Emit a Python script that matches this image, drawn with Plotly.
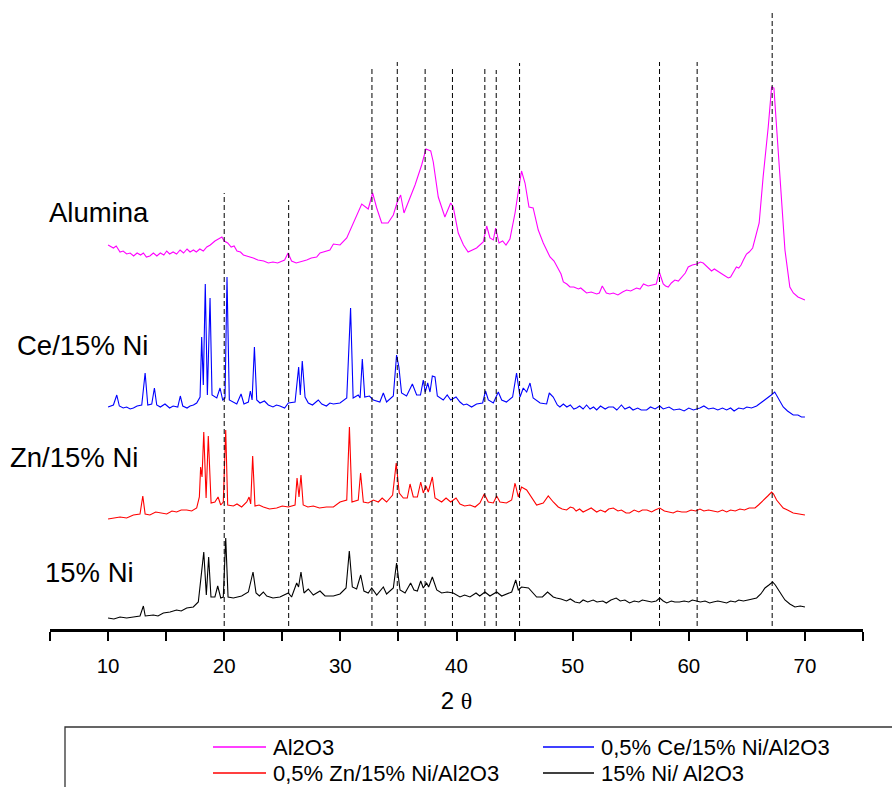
import plotly.graph_objects as go

# ---- XRD patterns (2θ in degrees, stacked intensity in a.u.) ----
tt_al2o3 = [10.0, 10.25, 10.46, 10.7, 11.03, 11.3, 11.6, 11.9, 12.2, 12.5, 12.8, 13.04, 13.3, 13.6,
            13.9, 14.2, 14.5, 14.8, 15.05, 15.3, 15.6, 15.9, 16.2, 16.5, 16.8, 17.06, 17.35, 17.6,
            17.9, 18.2, 18.5, 18.8, 19.2, 19.5, 19.8, 20.0, 20.3, 20.6, 20.85, 21.1, 21.4, 21.65,
            22.0, 22.5, 22.9, 23.4, 23.8, 24.2, 24.6, 25.2, 25.5, 25.8, 26.2, 26.6, 27.1, 27.5,
            27.96, 28.25, 28.6, 29.1, 29.4, 29.97, 30.55, 31.1, 31.84, 32.4, 32.78, 33.13, 33.56,
            34.1, 34.56, 34.9, 35.19, 35.48, 35.85, 36.43, 37.0, 37.37, 37.78, 38.0, 38.43, 39.0,
            39.5, 39.72, 40.15, 40.6, 41.0, 41.73, 42.3, 42.6, 42.88, 43.17, 43.37, 43.66, 43.97,
            44.26, 44.6, 45.04, 45.38, 45.6, 45.9, 46.24, 46.6, 47.04, 47.47, 48.05, 48.4, 48.76,
            49.0, 49.2, 49.5, 49.77, 50.1, 50.5, 50.7, 50.9, 51.2, 51.6, 52.07, 52.3, 52.55, 52.9,
            53.2, 53.5, 53.9, 54.3, 54.65, 55.0, 55.5, 55.8, 56.1, 56.5, 56.95, 57.2, 57.46, 57.8,
            58.0, 58.23, 58.5, 58.8, 59.1, 59.4, 59.7, 59.95, 60.3, 60.68, 61.0, 61.24, 61.6, 61.96,
            62.2, 62.68, 63.0, 63.4, 63.6, 63.8, 64.1, 64.3, 64.5, 64.7, 64.97, 65.2, 65.5, 66.06,
            66.4, 66.84, 67.13, 67.33, 67.56, 67.85, 68.28, 68.7, 69.0, 69.4, 70.0]
int_al2o3 = [384, 382, 381, 383, 377, 378, 375, 376, 373, 376, 374, 376, 372, 373,
             376, 373, 376, 374, 378, 375, 377, 375, 379, 376, 380, 377, 379, 377,
             380, 378, 382, 384, 388, 390, 392, 388, 386, 382, 383, 378, 377, 374,
             373, 371, 369, 368, 366, 367, 366, 369, 376, 368, 366, 367, 369, 371,
             372, 376, 377, 379, 385, 384, 391, 406, 425, 420, 436, 421, 406,
             406, 414, 427, 434, 416, 427, 444, 464, 480, 478, 467, 432, 412,
             426, 422, 396, 384, 377, 381, 387, 403, 391, 389, 401, 386, 388,
             384, 390, 416, 442, 458, 446, 422, 421, 399, 386, 372, 368, 361,
             355, 347, 345, 342, 342, 340, 341, 339, 336, 337, 335, 336, 343, 336,
             335, 336, 334, 337, 339, 338, 341, 340, 345, 343, 344, 345, 357, 345,
             343, 342, 346, 349, 348, 352, 356, 362, 364, 365, 367, 366, 362, 358,
             360, 356, 354, 351, 352, 356, 362, 361, 364, 369, 375, 377, 381, 406,
             452, 502, 542, 541, 502, 446, 379, 342, 336, 332, 329]

tt_ce = [10.0, 10.46, 10.75, 10.97, 11.3, 11.6, 11.9, 12.18, 12.5, 12.9, 13.19, 13.42, 13.76,
         13.99, 14.19, 14.5, 14.9, 15.3, 15.6, 16.0, 16.22, 16.43, 16.8, 17.06, 17.35, 17.63,
         17.92, 18.06, 18.2, 18.37, 18.55, 18.78, 18.95, 19.36, 19.64, 19.87, 20.07, 20.24,
         20.44, 20.75, 21.08, 21.45, 21.7, 22.08, 22.25, 22.4, 22.6, 22.8, 23.08, 23.46, 23.8,
         24.2, 24.5, 24.8, 25.2, 25.52, 26.1, 26.41, 26.55, 26.72, 26.96, 27.24, 27.6, 28.1,
         28.4, 28.8, 29.1, 29.4, 29.97, 30.55, 30.88, 31.1, 31.54, 31.7, 31.89, 32.1, 32.5,
         32.84, 33.4, 33.7, 33.98, 34.56, 34.84, 35.04, 35.27, 35.7, 36.2, 36.57, 36.9, 37.14,
         37.31, 37.52, 37.72, 37.92, 38.15, 38.35, 38.86, 39.2, 39.5, 39.96, 40.3, 40.6, 40.88,
         41.3, 41.73, 42.25, 42.5, 42.74, 43.17, 43.6, 43.89, 44.3, 44.83, 45.17, 45.47, 45.75,
         46.04, 46.33, 46.6, 47.2, 47.76, 47.99, 48.33, 48.68, 48.9, 49.2, 49.5, 49.8, 50.1,
         50.34, 50.6, 50.9, 51.2, 51.5, 51.8, 52.07, 52.4, 52.8, 53.1, 53.5, 53.8, 54.2, 54.5,
         54.9, 55.2, 55.6, 55.9, 56.37, 56.7, 57.1, 57.5, 57.8, 58.3, 58.7, 59.2, 59.6, 60.0,
         60.4, 60.96, 61.3, 61.7, 62.1, 62.5, 62.9, 63.26, 63.6, 63.9, 64.3, 64.7, 65.0, 65.4,
         65.84, 66.2, 66.7, 67.1, 67.4, 67.7, 68.13, 68.5, 68.99, 69.4, 69.7, 70.0]
int_ce = [222, 224, 234, 223, 221, 222, 220, 221, 223, 224, 256, 224, 225,
          241, 224, 222, 225, 221, 223, 222, 233, 223, 221, 223, 224, 226,
          232, 292, 244, 345, 234, 331, 234, 231, 241, 229, 231, 352,
          229, 227, 225, 235, 225, 227, 238, 229, 282, 229, 226, 228, 224,
          222, 224, 223, 221, 226, 227, 262, 234, 268, 232, 226, 224, 229,
          225, 223, 226, 225, 226, 231, 321, 231, 234, 231, 270, 232, 233,
          229, 227, 236, 227, 233, 274, 262, 236, 233, 245, 234, 234, 249,
          237, 246, 237, 253, 252, 233, 229, 234, 229, 232, 227, 224, 225,
          222, 225, 226, 238, 229, 226, 237, 229, 227, 232, 256, 232, 241,
          237, 246, 231, 226, 225, 236, 232, 224, 222, 225, 222, 224, 220,
          221, 223, 220, 224, 220, 222, 219, 223, 220, 222, 222, 219, 224, 220,
          222, 219, 221, 219, 219, 222, 220, 223, 220, 222, 219, 220, 218, 221,
          219, 221, 223, 220, 221, 219, 221, 219, 221, 218, 221, 220, 222, 221,
          223, 226, 231, 234, 237, 231, 222, 218, 214, 214, 212, 212]

tt_zn = [10.0, 11.03, 11.6, 12.18, 12.75, 12.99, 13.19, 13.6, 14.1, 14.5, 15.05, 15.5, 15.9, 16.3,
         16.77, 17.2, 17.63, 17.86, 17.97, 18.09, 18.24, 18.44, 18.63, 18.87, 19.2, 19.47, 19.7,
         19.92, 20.13, 20.3, 20.79, 21.1, 21.5, 21.94, 22.14, 22.28, 22.45, 22.65, 23.0, 23.37,
         23.9, 24.52, 25.0, 25.52, 26.1, 26.27, 26.44, 26.61, 26.8, 27.2, 27.67, 28.2, 28.8,
         29.4, 29.97, 30.55, 30.78, 31.0, 31.54, 31.74, 31.98, 32.4, 32.84, 33.27, 33.6, 33.98,
         34.5, 34.81, 35.07, 35.42, 35.76, 36.0, 36.28, 36.63, 36.92, 37.14, 37.37, 37.57, 37.92,
         38.15, 38.72, 39.1, 39.5, 39.96, 40.3, 40.7, 41.16, 41.6, 42.02, 42.39, 42.74, 43.17,
         43.46, 43.74, 44.3, 44.75, 45.04, 45.32, 45.6, 46.04, 46.38, 46.9, 47.47, 47.9, 48.33,
         48.76, 49.1, 49.48, 49.8, 50.06, 50.3, 50.6, 50.9, 51.2, 51.6, 52.07, 52.4, 52.8, 53.1,
         53.5, 53.9, 54.2, 54.6, 54.9, 55.3, 55.7, 56.0, 56.4, 56.8, 57.1, 57.5, 57.9, 58.3,
         58.66, 59.0, 59.4, 59.8, 60.2, 60.6, 60.96, 61.3, 61.7, 62.1, 62.5, 62.9, 63.26, 63.6,
         64.0, 64.4, 64.8, 65.2, 65.7, 66.0, 66.4, 66.8, 67.13, 67.3, 67.56, 67.8, 68.13, 68.5,
         68.99, 69.5, 70.0]
int_zn = [110, 112, 111, 114, 115, 133, 115, 114, 117, 116, 115, 118, 117, 119,
          119, 118, 121, 132, 162, 152, 197, 131, 193, 126, 127, 132, 124,
          127, 199, 124, 123, 125, 122, 127, 132, 125, 173, 123, 124, 122,
          120, 121, 123, 122, 124, 151, 132, 154, 124, 122, 123, 121, 122,
          122, 127, 129, 202, 127, 129, 156, 127, 126, 129, 127, 131, 127,
          134, 166, 136, 131, 131, 145, 132, 132, 147, 136, 143, 137, 152,
          131, 127, 131, 127, 131, 125, 123, 124, 122, 126, 135, 127, 126,
          133, 127, 126, 129, 146, 132, 142, 139, 133, 124, 126, 133, 127,
          122, 120, 119, 122, 121, 118, 120, 117, 119, 121, 117, 119, 117, 120,
          121, 118, 119, 116, 116, 119, 117, 119, 119, 117, 119, 121, 118, 117,
          116, 118, 117, 117, 119, 118, 120, 118, 119, 118, 117, 119, 117, 119,
          118, 120, 119, 121, 121, 124, 129, 133, 137, 135, 129, 126, 121, 119,
          116, 115, 114]

tt_ni = [10.0, 10.5, 11.03, 11.6, 12.18, 12.75, 13.04, 13.2, 13.9, 14.3, 14.76, 15.34, 15.9, 16.3,
         16.77, 17.34, 17.77, 18.0, 18.24, 18.46, 18.66, 18.86, 19.2, 19.44, 19.7, 19.92, 20.13,
         20.33, 20.79, 21.5, 22.08, 22.48, 22.74, 23.03, 23.37, 23.66, 24.2, 24.8, 25.52, 25.8,
         26.24, 26.4, 26.61, 26.87, 27.24, 27.67, 28.25, 28.68, 29.4, 29.97, 30.49, 30.77, 31.03,
         31.4, 31.75, 32.03, 32.4, 32.7, 33.13, 33.7, 33.98, 34.56, 34.84, 35.14, 35.57, 36.05,
         36.34, 36.63, 36.92, 37.14, 37.43, 37.6, 37.92, 38.3, 38.72, 39.2, 39.72, 40.3, 40.7,
         41.16, 41.68, 42.0, 42.45, 42.88, 43.46, 43.89, 44.3, 44.75, 45.1, 45.32, 45.6, 46.2,
         46.9, 47.4, 47.84, 48.33, 48.6, 49.0, 49.47, 49.8, 50.2, 50.6, 50.9, 51.3, 51.77, 52.1,
         52.6, 52.9, 53.3, 53.75, 54.1, 54.5, 54.9, 55.3, 55.7, 56.0, 56.4, 56.8, 57.2, 57.5,
         57.8, 58.1, 58.5, 58.8, 59.2, 59.6, 60.0, 60.3, 60.67, 61.0, 61.4, 61.8, 62.1, 62.5,
         62.9, 63.26, 63.6, 64.0, 64.3, 64.7, 65.1, 65.5, 65.84, 66.2, 66.56, 66.9, 67.22, 67.45,
         67.7, 68.0, 68.28, 68.7, 69.14, 69.6, 70.0]
int_ni = [11, 10, 12, 11, 12, 13, 23, 13, 14, 13, 16, 17, 19, 18,
          21, 22, 27, 54, 77, 34, 72, 32, 32, 43, 31, 32, 91,
          32, 31, 33, 37, 57, 36, 33, 37, 33, 31, 32, 36, 32,
          46, 42, 57, 36, 40, 34, 38, 33, 33, 35, 41, 78, 42,
          40, 54, 38, 36, 41, 34, 42, 35, 41, 66, 39, 36, 46,
          39, 38, 48, 41, 46, 42, 52, 39, 36, 37, 36, 32, 34,
          32, 36, 33, 37, 33, 37, 33, 35, 37, 49, 39, 42, 41,
          32, 32, 37, 32, 31, 30, 28, 30, 27, 26, 29, 27, 29, 27,
          28, 26, 29, 31, 28, 29, 26, 28, 27, 29, 28, 27, 28, 31,
          28, 26, 28, 27, 27, 28, 27, 29, 28, 27, 28, 26, 27, 28,
          27, 26, 28, 27, 29, 28, 29, 30, 31, 35, 41, 44, 47, 44,
          39, 34, 29, 25, 22, 23, 22]

series_names = ["Al2O3", "0,5% Ce/15% Ni/Al2O3", "0,5% Zn/15% Ni/Al2O3", "15% Ni/ Al2O3"]
series_colors = ["#FF00FF", "#0000FF", "#FF0000", "#000000"]
series_x = [tt_al2o3, tt_ce, tt_zn, tt_ni]
series_y = [int_al2o3, int_ce, int_zn, int_ni]

# Side labels for each stacked pattern
side_labels = ["Alumina", "Ce/15% Ni", "Zn/15% Ni", "15% Ni"]

# Reference reflection positions (2θ) and the height each marker line reaches
ref_positions = [20.0, 25.55, 32.72, 34.9, 37.3, 39.65, 42.44, 43.42, 45.43, 57.48, 60.72, 67.18]
ref_tops = [436, 429, 560, 567, 560, 561, 560, 559, 566, 567, 567, 616]

tick_vals = [5, 10, 15, 20, 25, 30, 35, 40, 45, 50, 55, 60, 65, 70, 75]
tick_text = ["", "10", "", "20", "", "30", "", "40", "", "50", "", "60", "", "70", ""]

# ---- figure geometry (pixels) ----
W, H = 892, 787
ML, MR, MT, MB = 50, 29, 9, 158
PW, PH = W - ML - MR, H - MT - MB


def px_x(p):
    return (p - ML) / PW


def px_y(p):
    return (H - MB - p) / PH


FONT = "Liberation Sans, Arial, sans-serif"

fig = go.Figure()
for xs, ys, name, col in zip(series_x, series_y, series_names, series_colors):
    fig.add_trace(go.Scatter(x=xs, y=ys, mode="lines", name=name,
                             line=dict(color=col, width=1.1), showlegend=False))

shapes = []
for pos, top in zip(ref_positions, ref_tops):
    shapes.append(dict(type="line", xref="x", yref="y", x0=pos, x1=pos, y0=3, y1=top,
                       line=dict(color="black", width=1, dash="5px,3px"), layer="above"))

# legend frame
shapes.append(dict(type="rect", xref="paper", yref="paper",
                   x0=px_x(65), x1=px_x(905), y0=px_y(727), y1=px_y(800),
                   line=dict(color="#333333", width=1.3), fillcolor="rgba(0,0,0,0)"))

annotations = []
# legend entries: (line x0, line x1, text x, row y)
legend_pos = [(213, 266, 271, 747), (543, 594, 599, 747), (213, 266, 271, 773), (543, 594, 599, 773)]
for (lx0, lx1, tx, ry), name, col in zip(legend_pos, series_names, series_colors):
    shapes.append(dict(type="line", xref="paper", yref="paper",
                       x0=px_x(lx0), x1=px_x(lx1), y0=px_y(ry), y1=px_y(ry),
                       line=dict(color=col, width=1.3)))
    annotations.append(dict(xref="paper", yref="paper", x=px_x(tx), y=px_y(ry),
                            text=name, showarrow=False, xanchor="left", yanchor="middle",
                            font=dict(family=FONT, size=22, color="black")))

label_pos = [(47, 213), (15, 345), (8, 457), (43, 572)]
for (lx, ly), txt in zip(label_pos, side_labels):
    annotations.append(dict(xref="paper", yref="paper", x=px_x(lx), y=px_y(ly),
                            text=txt, showarrow=False, xanchor="left", yanchor="middle",
                            font=dict(family=FONT, size=27.5, color="black")))

fig.update_layout(
    width=W, height=H,
    margin=dict(l=ML, r=MR, t=MT, b=MB),
    paper_bgcolor="white", plot_bgcolor="white",
    shapes=shapes, annotations=annotations,
    showlegend=False,
    xaxis=dict(range=[5, 75], tickvals=tick_vals, ticktext=tick_text,
               ticks="outside", ticklen=9, tickwidth=2, tickcolor="black",
               showline=True, linewidth=2.5, linecolor="black",
               showgrid=False, zeroline=False, ticklabelstandoff=8,
               tickfont=dict(family=FONT, size=20.5, color="black"),
               title=dict(text="2 <span style='font-family:Liberation Serif, serif'>θ</span>",
                          standoff=16,
                          font=dict(family=FONT, size=24, color="black"))),
    yaxis=dict(range=[0, PH], visible=False, showgrid=False, zeroline=False),
)

fig.write_html("out.html")
